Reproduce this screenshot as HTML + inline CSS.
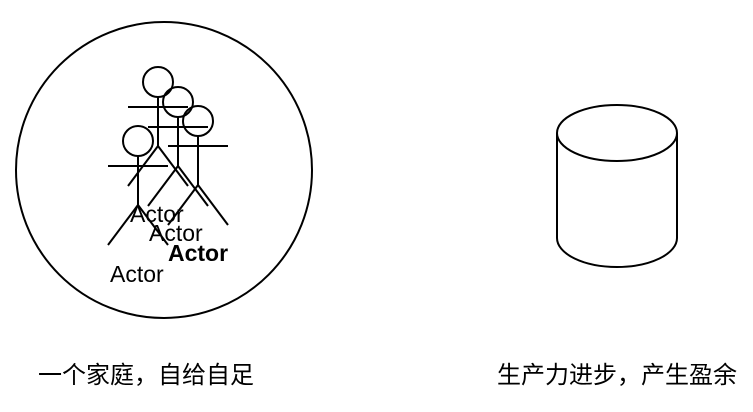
<!DOCTYPE html>
<html><head><meta charset="utf-8"><style>
html,body{margin:0;padding:0;background:#fff;width:753px;height:412px;overflow:hidden}
svg{display:block}
text{font-family:"Liberation Sans","Noto Sans CJK SC",sans-serif;fill:#000}
</style></head><body>
<svg width="753" height="412" viewBox="0 0 753 412" xmlns="http://www.w3.org/2000/svg">
<g fill="none" stroke="#000" stroke-width="2">
<circle cx="164" cy="170" r="148"/>
<g id="a">
<circle cx="158" cy="82" r="15"/>
<line x1="158" y1="97" x2="158" y2="146"/>
<line x1="128" y1="107" x2="188" y2="107"/>
<line x1="158" y1="146" x2="128" y2="186"/>
<line x1="158" y1="146" x2="188" y2="186"/>
</g>
<use href="#a" transform="translate(20,20)"/>
<use href="#a" transform="translate(40,39)"/>
<use href="#a" transform="translate(-20,59)"/>
<path d="M557 133 A60 28 0 0 1 677 133 L677 238 A60 29 0 0 1 557 238 Z"/>
<path d="M557 133 A60 28 0 0 0 677 133"/>
</g>
<g font-size="23">
<text x="130" y="222">Actor</text>
<text x="149" y="241">Actor</text>
<text x="168" y="261" font-weight="bold">Actor</text>
<text x="110" y="282">Actor</text>
</g>
<text x="38" y="383" font-size="24">一个家庭，自给自足</text>
<text x="497" y="383" font-size="24">生产力进步，产生盈余</text>
</svg>
</body></html>
